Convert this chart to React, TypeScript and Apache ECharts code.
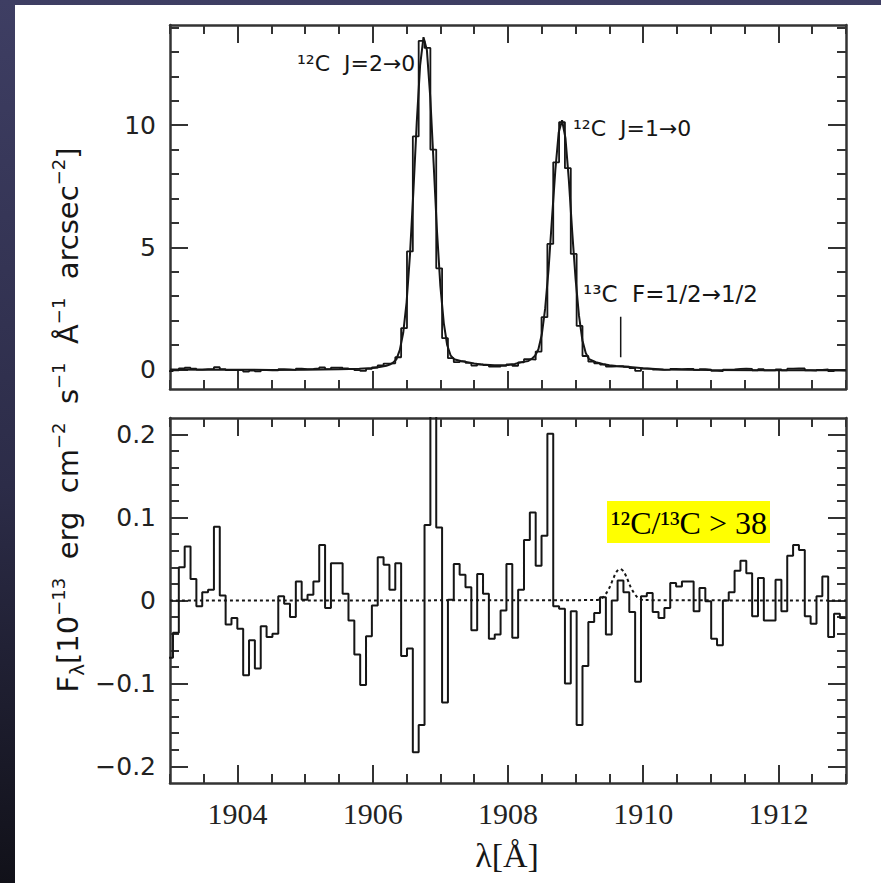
import React, { useEffect, useRef } from "react";
import * as echarts from "echarts";

// ---- data ----
const LAMBDA_START = 1902.9575; // left edge of the first bin [Å]
const BIN_WIDTH = 0.08654; // bin width [Å]

const fluxSteps = [
  -0.07, -0.04, 0.04, 0.07, 0.03, -0.01, 0.01, 0.01, 0.09, 0.01,
  -0.03, -0.02, -0.03, -0.09, -0.05, -0.08, -0.03, -0.04, -0.04, 0.01,
  0.0, -0.02, 0.03, 0.01, 0.02, 0.04, 0.08, 0.01, 0.07, 0.07,
  0.04, 0.01, -0.03, -0.06, 0.02, 0.08, 0.17, 0.24, 0.25, 0.5,
  1.69, 4.83, 9.54, 13.45, 13.16, 9.0, 4.14, 1.28, 0.46, 0.3,
  0.33, 0.27, 0.16, 0.21, 0.18, 0.12, 0.12, 0.15, 0.21, 0.15,
  0.29, 0.42, 0.4, 0.73, 2.14, 5.14, 8.48, 10.12, 8.24, 4.73,
  1.78, 0.55, 0.32, 0.25, 0.2, 0.12, 0.13, 0.14, 0.11, 0.06,
  -0.06, 0.03, 0.02, -0.01, -0.02, -0.01, 0.02, 0.01, 0.02, 0.02,
  -0.02, 0.01, -0.01, -0.06, -0.07, -0.01, 0.0, 0.02, 0.03, 0.02,
  -0.04, 0.01, -0.04, -0.04, 0.0, -0.04, 0.03, 0.04, 0.04, -0.04,
  -0.05, -0.02, 0.0, -0.07, -0.04, -0.05,
];

const residualSteps = [
  -0.069, -0.039, 0.04, 0.065, 0.026, -0.007, 0.01, 0.013, 0.089, 0.006,
  -0.029, -0.021, -0.034, -0.09, -0.048, -0.082, -0.031, -0.044, -0.04, 0.005,
  -0.004, -0.02, 0.023, 0.001, 0.007, 0.023, 0.067, -0.009, 0.045, 0.045,
  0.008, -0.024, -0.065, -0.102, -0.043, -0.006, 0.052, 0.043, 0.013, 0.045,
  -0.067, -0.058, -0.183, -0.15, 0.091, 0.3, 0.088, -0.123, 0.001, 0.044,
  0.031, 0.016, -0.036, 0.032, 0.008, -0.046, -0.041, -0.012, 0.044, -0.045,
  0.013, 0.073, 0.106, 0.042, 0.078, 0.201, -0.007, -0.01, -0.1, -0.013,
  -0.15, -0.079, -0.026, -0.015, 0.004, -0.041, 0.0, 0.024, 0.01, -0.014,
  -0.098, 0.005, 0.009, -0.014, -0.021, -0.009, 0.021, 0.017, 0.023, 0.023,
  -0.013, 0.015, -0.001, -0.046, -0.054, 0.0, 0.01, 0.036, 0.048, 0.033,
  -0.019, 0.027, -0.024, -0.024, 0.025, -0.013, 0.054, 0.067, 0.061, -0.019,
  -0.028, 0.005, 0.029, -0.044, -0.016, -0.021,
];

const fitLambda = [
  1903.0, 1903.5, 1904.0, 1904.5, 1905.0, 1905.5, 1905.8, 1906.0, 1906.1, 1906.2,
  1906.25, 1906.3, 1906.35, 1906.4, 1906.45, 1906.5, 1906.55, 1906.6, 1906.65, 1906.7,
  1906.75, 1906.8, 1906.85, 1906.9, 1906.95, 1907.0, 1907.05, 1907.1, 1907.15, 1907.2,
  1907.3, 1907.4, 1907.5, 1907.6, 1907.8, 1908.0, 1908.1, 1908.2, 1908.3, 1908.35,
  1908.4, 1908.45, 1908.5, 1908.55, 1908.6, 1908.65, 1908.7, 1908.75, 1908.8, 1908.85,
  1908.9, 1908.95, 1909.0, 1909.05, 1909.1, 1909.15, 1909.2, 1909.3, 1909.4, 1909.5,
  1909.6, 1909.7, 1909.8, 1910.0, 1910.3, 1911.0, 1912.0, 1913.0,
];
const fitFlux = [
  0.0, -0.01, -0.01, -0.02, -0.01, 0.01, 0.03, 0.06, 0.1, 0.15,
  0.2, 0.28, 0.42, 0.8, 1.5, 2.75, 4.7, 7.27, 10.1, 12.45,
  13.6, 13.08, 11.15, 8.42, 5.63, 3.4, 1.9, 1.0, 0.58, 0.42,
  0.35, 0.3, 0.24, 0.2, 0.17, 0.18, 0.22, 0.3, 0.35, 0.43,
  0.56, 0.83, 1.43, 2.5, 4.1, 6.15, 8.15, 9.7, 10.2, 9.47,
  7.76, 5.62, 3.7, 2.2, 1.2, 0.67, 0.42, 0.3, 0.22, 0.17,
  0.14, 0.12, 0.1, 0.05, 0.0, -0.02, -0.03, -0.03,
];

const modelLambda = [
  1903, 1909.31, 1909.36, 1909.41, 1909.46, 1909.51, 1909.56, 1909.61, 1909.66,
  1909.71, 1909.76, 1909.81, 1909.86, 1909.91, 1909.96, 1910.01, 1913,
];
const modelResidual = [
  0, 0.0005, 0.0017, 0.0043, 0.0095, 0.017, 0.027, 0.035, 0.038,
  0.035, 0.027, 0.017, 0.0095, 0.0043, 0.0017, 0.0005, 0,
];

const markerLambda = 1909.667;
const markerFlux = [0.5, 2.16];

const xMajorTicks = [1904, 1906, 1908, 1910, 1912];
const topYMajor = [0, 5, 10];
const topYMinor = [0, 1, 2, 3, 4, 5, 6, 7, 8, 9, 10, 11, 12, 13, 14];
const botYMajor = [-0.2, -0.1, 0, 0.1, 0.2];
const botYMinor = [
  -0.2, -0.18, -0.16, -0.14, -0.12, -0.1, -0.08, -0.06, -0.04, -0.02, 0,
  0.02, 0.04, 0.06, 0.08, 0.1, 0.12, 0.14, 0.16, 0.18, 0.2,
];

// ---- styling ----
const AX = "#333";
const INK = "#161616";

function stepPoints(values: number[]) {
  const pts: number[][] = [];
  values.forEach((v, i) => {
    const l = LAMBDA_START + i * BIN_WIDTH;
    pts.push([l, v], [l + BIN_WIDTH, v]);
  });
  return pts;
}

const fmt = (v: number) => (v === 0 ? "0" : String(v).replace("-", "\u2212"));

function makeXAxes(grid: number, labels: boolean) {
  const base = {
    type: "value",
    gridIndex: grid,
    min: 1903,
    max: 1913,
    splitLine: { show: false },
  };
  const line = { show: true, onZero: false, lineStyle: { color: AX, width: 2.5 } };
  const major = { show: true, inside: true, length: 18, customValues: xMajorTicks, lineStyle: { color: AX, width: 2 } };
  const minor = { show: true, inside: true, length: 9, lineStyle: { color: AX, width: 2 } };
  return [
    {
      ...base,
      position: "bottom",
      axisLine: line,
      axisTick: major,
      axisLabel: labels
        ? {
            show: true,
            customValues: xMajorTicks,
            formatter: (v: number) => String(v),
            margin: 15,
            color: "#222",
            fontFamily: "Liberation Serif",
            fontSize: 30,
          }
        : { show: false },
    },
    { ...base, position: "bottom", interval: 0.5, axisLine: { show: false, onZero: false }, axisTick: minor, axisLabel: { show: false } },
    { ...base, position: "top", axisLine: line, axisTick: major, axisLabel: { show: false } },
    { ...base, position: "top", interval: 0.5, axisLine: { show: false, onZero: false }, axisTick: minor, axisLabel: { show: false } },
  ];
}

function makeYAxes(grid: number, min: number, max: number, majors: number[], minors: number[]) {
  const base = { type: "value", gridIndex: grid, min, max, splitLine: { show: false } };
  const line = { show: true, onZero: false, lineStyle: { color: AX, width: 2.5 } };
  const major = { show: true, inside: true, length: 18, customValues: majors, lineStyle: { color: AX, width: 2 } };
  const minor = { show: true, inside: true, length: 9, customValues: minors, lineStyle: { color: AX, width: 2 } };
  return [
    {
      ...base,
      position: "left",
      axisLine: line,
      axisTick: major,
      axisLabel: {
        show: true,
        customValues: majors,
        formatter: fmt,
        margin: 14,
        color: "#222",
        fontFamily: "DejaVu Sans",
        fontSize: 25,
      },
    },
    { ...base, position: "left", axisLine: { show: false, onZero: false }, axisTick: minor, axisLabel: { show: false } },
    { ...base, position: "right", axisLine: line, axisTick: major, axisLabel: { show: false } },
    { ...base, position: "right", axisLine: { show: false, onZero: false }, axisTick: minor, axisLabel: { show: false } },
  ];
}

export default function App() {
  const ref = useRef<HTMLDivElement>(null);

  useEffect(() => {
    if (!ref.current) return;
    const chart = echarts.init(ref.current, undefined, { renderer: "svg" });

    const titleRich = {
      n: { fontFamily: "DejaVu Sans", fontSize: 29, fill: INK, lineHeight: 38 },
      sub: { fontFamily: "DejaVu Sans", fontSize: 20, fill: INK, verticalAlign: "bottom", lineHeight: 20 },
      sup: { fontFamily: "DejaVu Sans", fontSize: 18, fill: INK, verticalAlign: "top", lineHeight: 18 },
    };

    const labelStyle = {
      fontFamily: "DejaVu Sans",
      fontSize: 22,
      fill: INK,
      textAlign: "left",
      verticalAlign: "middle",
    };

    chart.setOption({
      animation: false,
      backgroundColor: "transparent",
      grid: [
        { left: 170, top: 25, width: 676, height: 364 },
        { left: 170, top: 418, width: 676, height: 365 },
      ],
      xAxis: [...makeXAxes(0, false), ...makeXAxes(1, true)],
      yAxis: [
        ...makeYAxes(0, -0.8, 14.1, topYMajor, topYMinor),
        ...makeYAxes(1, -0.22, 0.22, botYMajor, botYMinor),
      ],
      series: [
        {
          type: "line",
          xAxisIndex: 0,
          yAxisIndex: 0,
          data: stepPoints(fluxSteps),
          showSymbol: false,
          clip: true,
          lineStyle: { color: INK, width: 1.8 },
        },
        {
          type: "line",
          xAxisIndex: 0,
          yAxisIndex: 0,
          data: fitLambda.map((l, i) => [l, fitFlux[i]]),
          showSymbol: false,
          clip: true,
          lineStyle: { color: INK, width: 2 },
        },
        {
          type: "line",
          xAxisIndex: 0,
          yAxisIndex: 0,
          data: markerFlux.map((f) => [markerLambda, f]),
          showSymbol: false,
          lineStyle: { color: INK, width: 1.5 },
        },
        {
          type: "line",
          xAxisIndex: 4,
          yAxisIndex: 4,
          data: stepPoints(residualSteps),
          showSymbol: false,
          clip: true,
          lineStyle: { color: INK, width: 2 },
        },
        {
          type: "line",
          xAxisIndex: 4,
          yAxisIndex: 4,
          data: modelLambda.map((l, i) => [l, modelResidual[i]]),
          showSymbol: false,
          smooth: 0.3,
          lineStyle: { color: INK, width: 2, type: [3, 3] },
        },
      ],
      graphic: [
        {
          type: "rect",
          z: -10,
          shape: { x: 15, y: 5, width: 866, height: 878 },
          style: { fill: "#ffffff" },
          silent: true,
        },
        {
          type: "text",
          x: 68,
          y: 420,
          rotation: Math.PI / 2,
          style: {
            text:
              "{n|F}{sub|λ}{n|[10}{sup|\u221213}{n|  erg  cm}{sup|\u22122}{n|  s}{sup|\u22121}{n|  Å}{sup|\u22121}{n|  arcsec}{sup|\u22122}{n|]}",
            rich: titleRich,
            textAlign: "center",
            verticalAlign: "middle",
            fill: INK,
          },
        },
        { type: "text", x: 297, y: 63, style: { ...labelStyle, text: "¹²C  J=2→0" } },
        { type: "text", x: 573, y: 128, style: { ...labelStyle, text: "¹²C  J=1→0" } },
        { type: "text", x: 583, y: 294, style: { ...labelStyle, fontSize: 23, text: "¹³C  F=1/2→1/2" } },
        {
          type: "rect",
          shape: { x: 607, y: 501, width: 163, height: 42 },
          style: { fill: "#ffff00" },
        },
        {
          type: "text",
          x: 611,
          y: 523,
          style: {
            text: "¹²C/¹³C > 38",
            fontFamily: "Liberation Serif",
            fontSize: 32,
            fill: "#000",
            textAlign: "left",
            verticalAlign: "middle",
          },
        },
        {
          type: "text",
          x: 507,
          y: 855,
          style: {
            text: "λ[Å]",
            fontFamily: "Liberation Serif",
            fontSize: 34,
            fill: INK,
            textAlign: "center",
            verticalAlign: "middle",
          },
        },
      ],
    });

    return () => chart.dispose();
  }, []);

  return (
    <div
      ref={ref}
      style={{
        position: "absolute",
        left: 0,
        top: 0,
        width: 881,
        height: 883,
        background: "linear-gradient(180deg, #3e3e63 0%, #2c2c48 55%, #111119 100%)",
      }}
    />
  );
}
